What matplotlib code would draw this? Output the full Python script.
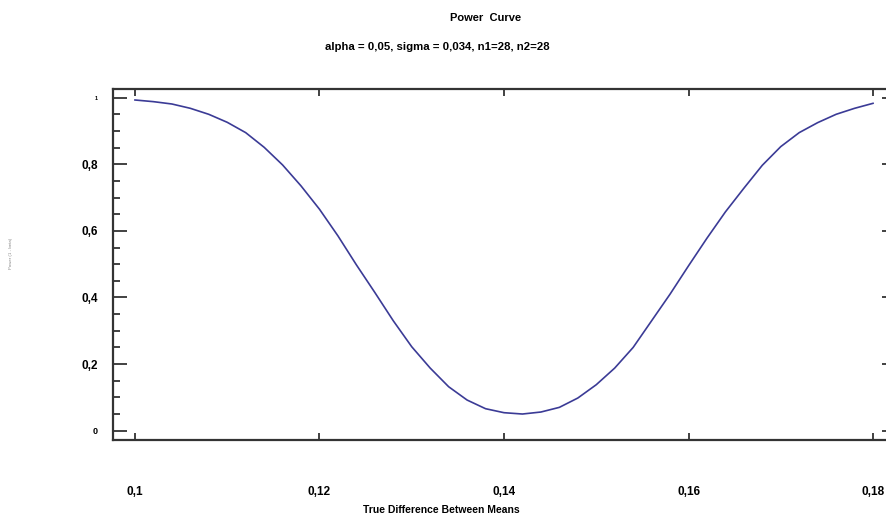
import matplotlib
matplotlib.use("Agg")
import matplotlib.pyplot as plt
from matplotlib.ticker import FixedLocator, MultipleLocator

plt.rcParams['font.family'] = ['Liberation Sans', 'DejaVu Sans']

# Data
true_diff = [0.100, 0.102, 0.104, 0.106, 0.108, 0.110, 0.112, 0.114, 0.116,
             0.118, 0.120, 0.122, 0.124, 0.126, 0.128, 0.130, 0.132, 0.134,
             0.136, 0.138, 0.140, 0.142, 0.144, 0.146, 0.148, 0.150, 0.152,
             0.154, 0.156, 0.158, 0.160, 0.162, 0.164, 0.166, 0.168, 0.170,
             0.172, 0.174, 0.176, 0.178, 0.180]
power = [0.993, 0.988, 0.981, 0.968, 0.950, 0.926, 0.895, 0.851, 0.798,
         0.735, 0.665, 0.585, 0.498, 0.415, 0.330, 0.252, 0.188, 0.132,
         0.092, 0.066, 0.054, 0.050, 0.056, 0.070, 0.098, 0.138, 0.188,
         0.250, 0.330, 0.410, 0.495, 0.578, 0.657, 0.728, 0.797, 0.853,
         0.895, 0.925, 0.950, 0.968, 0.983]

x_ticks = [0.10, 0.12, 0.14, 0.16, 0.18]
x_tick_labels = ["0,1", "0,12", "0,14", "0,16", "0,18"]
y_ticks = [0.0, 0.2, 0.4, 0.6, 0.8, 1.0]
y_tick_labels = ["0", "0,2", "0,4", "0,6", "0,8", "1"]

W, H = 886, 519
fig = plt.figure(figsize=(W / 100, H / 100), dpi=100)
left, right, top, bottom = 113, 896, 89, 440
ax = fig.add_axes([left / W, 1 - bottom / H, (right - left) / W, (bottom - top) / H])

ax.plot(true_diff, power, color='#3b3b96', lw=1.2)

ax.set_xlim(0.09762, 0.18249)
ax.set_ylim(-0.028, 1.026)

for s in ax.spines.values():
    s.set_color('#333333')
    s.set_linewidth(1.6)

ax.xaxis.set_major_locator(FixedLocator(x_ticks))
ax.set_xticklabels(x_tick_labels, fontsize=8.5, fontweight='bold')
ax.yaxis.set_major_locator(FixedLocator(y_ticks))
ax.set_yticklabels(y_tick_labels, fontsize=8.5, fontweight='bold')
ax.yaxis.set_minor_locator(MultipleLocator(0.05))

ax.tick_params(axis='x', which='major', direction='in', length=5, width=1.3,
               color='#333333', top=True, bottom=True, pad=33)
ax.tick_params(axis='y', which='major', direction='in', length=10, width=1.3,
               color='#333333', left=True, right=True, pad=11)
ax.tick_params(axis='y', which='minor', direction='in', length=5, width=1.3,
               color='#333333', left=True, right=False)

# odd tick label sizes as in the reference
ylabs = ax.get_yticklabels()
ylabs[0].set_fontsize(6.5)
ylabs[-1].set_fontsize(4)

fig.text(486 / W, 1 - 18 / H, "Power  Curve", ha='center', va='center',
         fontsize=8, fontweight='bold')
fig.text(437 / W, 1 - 47 / H, "alpha = 0,05, sigma = 0,034, n1=28, n2=28",
         ha='center', va='center', fontsize=8.2, fontweight='bold')
fig.text(441 / W, 1 - 510 / H, "True Difference Between Means", ha='center',
         va='center', fontsize=7.5, fontweight='bold')
fig.text(11 / W, 1 - 253 / H, "Power (1 - beta)", rotation=90, ha='center',
         va='center', fontsize=3.2, color='#888888')

fig.savefig("out.png", dpi=100)
